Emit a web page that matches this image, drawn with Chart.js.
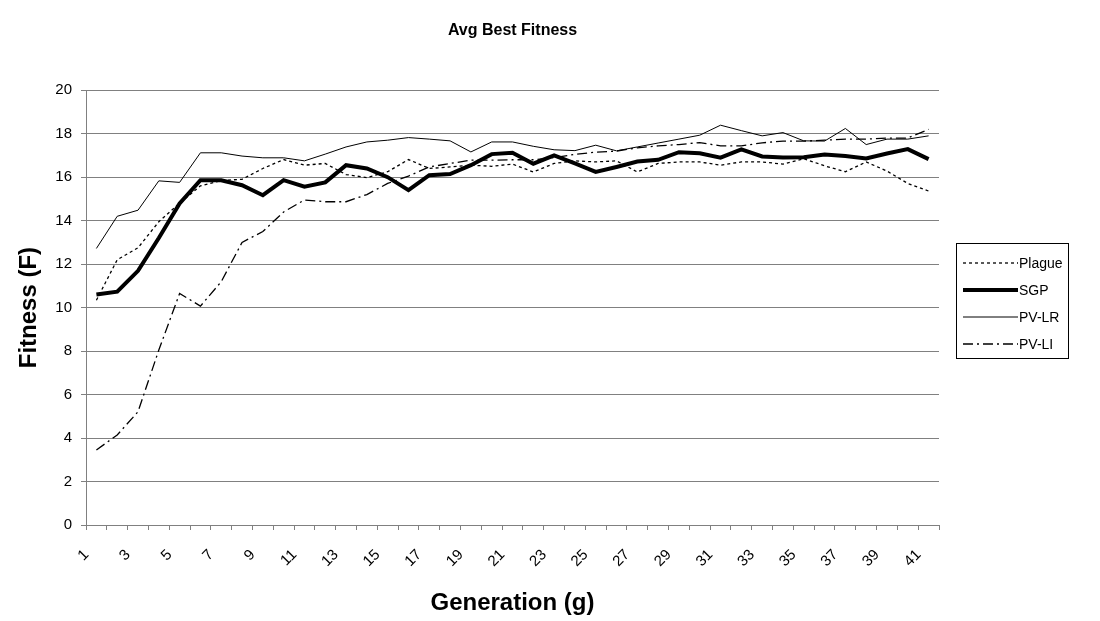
<!DOCTYPE html>
<html>
<head>
<meta charset="utf-8">
<script src="https://cdn.jsdelivr.net/npm/chart.js@4.4.0/dist/chart.umd.min.js"></script>
<style>
  html, body { margin: 0; padding: 0; background: #ffffff; }
  #wrap { width: 1100px; height: 621px; position: relative; }
</style>
</head>
<body>
<div id="wrap"><canvas id="c" width="1100" height="621"></canvas></div>
<script>
const generations = ['1','2','3','4','5','6','7','8','9','10','11','12','13','14','15','16','17','18','19','20',
  '21','22','23','24','25','26','27','28','29','30','31','32','33','34','35','36','37','38','39','40','41'];

const plague = [10.34, 12.2, 12.75, 13.95, 14.8, 15.6, 15.85, 15.9, 16.4, 16.81,
  16.55, 16.63, 16.12, 15.98, 16.25, 16.81, 16.4, 16.47, 16.55, 16.5,
  16.6, 16.24, 16.63, 16.75, 16.7, 16.75, 16.24, 16.63, 16.7, 16.7,
  16.55, 16.7, 16.7, 16.6, 16.85, 16.52, 16.25, 16.7, 16.28, 15.71, 15.36];

const sgp = [10.6, 10.73, 11.69, 13.2, 14.79, 15.86, 15.86, 15.63, 15.17, 15.86,
  15.56, 15.76, 16.55, 16.4, 16.0, 15.4, 16.09, 16.14, 16.55, 17.06,
  17.12, 16.62, 17.0, 16.63, 16.24, 16.47, 16.72, 16.8, 17.15, 17.1,
  16.9, 17.28, 16.95, 16.9, 16.92, 17.04, 16.97, 16.86, 17.09, 17.29, 16.83];

const pvlr = [12.72, 14.2, 14.48, 15.83, 15.76, 17.12, 17.12, 16.97, 16.89, 16.89,
  16.75, 17.06, 17.39, 17.62, 17.7, 17.82, 17.75, 17.67, 17.16, 17.62,
  17.62, 17.42, 17.26, 17.22, 17.47, 17.21, 17.39, 17.57, 17.75, 17.93,
  18.39, 18.14, 17.9, 18.05, 17.67, 17.66, 18.24, 17.5, 17.75, 17.75, 17.9];

const pvli = [3.45, 4.14, 5.21, 8.05, 10.65, 10.07, 11.19, 13.0, 13.5, 14.4,
  14.95, 14.87, 14.87, 15.2, 15.71, 16.05, 16.47, 16.63, 16.78, 16.78,
  16.8, 16.8, 16.9, 17.05, 17.15, 17.2, 17.35, 17.44, 17.5, 17.59,
  17.44, 17.44, 17.58, 17.66, 17.66, 17.7, 17.75, 17.75, 17.8, 17.8, 18.2];

const seriesNames = ['Plague', 'SGP', 'PV-LR', 'PV-LI'];
const yTicks = [0, 2, 4, 6, 8, 10, 12, 14, 16, 18, 20];

const FONT = "'Liberation Sans', Arial, Helvetica, sans-serif";
const GRID = '#808080';

const styles = [
  { borderWidth: 1.3, borderDash: [3, 3] },
  { borderWidth: 4, borderDash: [] },
  { borderWidth: 1, borderDash: [] },
  { borderWidth: 1.3, borderDash: [10, 4, 2, 4] }
];
const seriesData = [plague, sgp, pvlr, pvli];

const legendPlugin = {
  id: 'boxLegend',
  afterDraw(chart) {
    const ctx = chart.ctx;
    const x0 = 956, y0 = 243, w = 112, h = 115;
    ctx.save();
    ctx.strokeStyle = '#000';
    ctx.lineWidth = 1;
    ctx.setLineDash([]);
    ctx.strokeRect(x0 + 0.5, y0 + 0.5, w, h);
    const rows = [263, 290, 317, 344];
    chart.data.datasets.forEach((ds, i) => {
      const y = rows[i];
      ctx.beginPath();
      ctx.strokeStyle = '#000';
      ctx.lineWidth = ds.borderWidth;
      ctx.setLineDash(ds.borderDash || []);
      ctx.moveTo(963, y);
      ctx.lineTo(1018, y);
      ctx.stroke();
      ctx.setLineDash([]);
      ctx.fillStyle = '#000';
      ctx.font = '14px ' + FONT;
      ctx.textBaseline = 'middle';
      ctx.textAlign = 'left';
      ctx.fillText(ds.label, 1019, y + 1);
    });
    ctx.restore();
  }
};

new Chart(document.getElementById('c'), {
  type: 'line',
  data: {
    labels: generations,
    datasets: seriesNames.map((name, i) => ({
      label: name,
      data: seriesData[i],
      borderColor: '#000',
      backgroundColor: '#000',
      borderWidth: styles[i].borderWidth,
      borderDash: styles[i].borderDash,
      pointRadius: 0,
      tension: 0,
      fill: false
    }))
  },
  options: {
    responsive: false,
    animation: false,
    layout: { padding: { left: 0, right: 161, top: 0, bottom: 0 } },
    plugins: {
      legend: { display: false },
      tooltip: { enabled: false },
      title: {
        display: true,
        fullSize: false,
        text: 'Avg Best Fitness',
        color: '#000',
        font: { family: FONT, size: 16, weight: 'bold' },
        padding: { top: 21, bottom: 50 }
      }
    },
    scales: {
      x: {
        offset: true,
        grid: { offset: true, drawOnChartArea: false, drawTicks: true, tickLength: 5, color: GRID },
        border: { color: GRID, width: 1 },
        ticks: {
          autoSkip: false,
          minRotation: 45,
          maxRotation: 45,
          color: '#000',
          padding: 16,
          labelOffset: -10,
          font: { family: FONT, size: 15 },
          callback: function (value, index) { return index % 2 === 0 ? generations[index] : ''; }
        },
        title: {
          display: true,
          text: 'Generation (g)',
          color: '#000',
          font: { family: FONT, size: 24, weight: 'bold' },
          padding: { top: 0, bottom: 3 }
        },
        afterFit(scale) { scale.height = 96; }
      },
      y: {
        min: 0,
        max: 20,
        afterBuildTicks(scale) { scale.ticks = yTicks.map(v => ({ value: v })); },
        grid: { color: GRID, tickLength: 5 },
        border: { color: GRID, width: 1 },
        ticks: {
          color: '#000',
          padding: 9,
          font: { family: FONT, size: 15 }
        },
        title: {
          display: true,
          text: 'Fitness (F)',
          color: '#000',
          font: { family: FONT, size: 24, weight: 'bold' },
          padding: { top: 15, bottom: 0 }
        },
        afterFit(scale) { scale.width = 86; }
      }
    }
  },
  plugins: [legendPlugin]
});
</script>
</body>
</html>
